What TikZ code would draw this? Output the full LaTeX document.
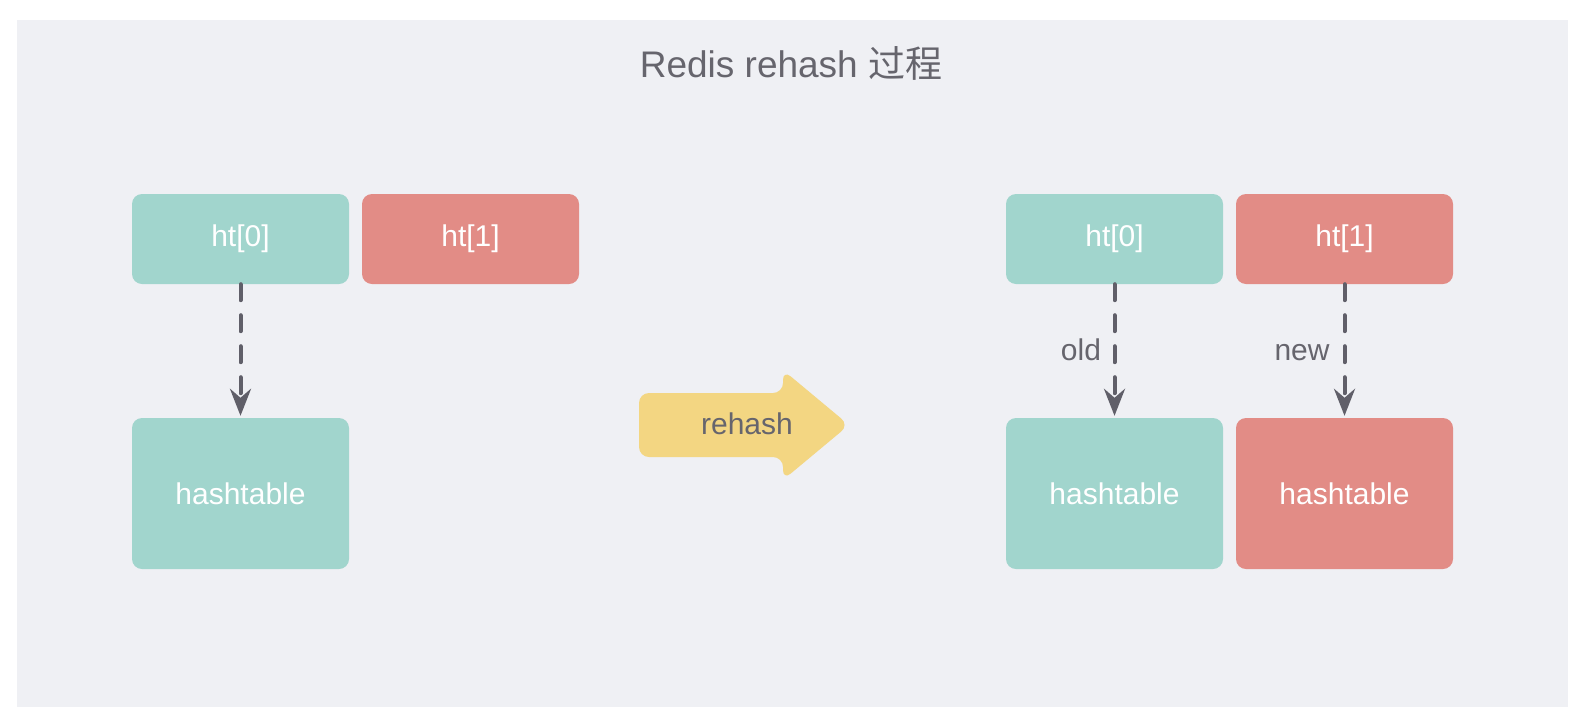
\documentclass[tikz,border=0pt]{standalone}
\usepackage{fontspec}
\setmainfont{Liberation Sans}
\newfontfamily\cjk{Noto Sans CJK SC}
\usetikzlibrary{arrows.meta}
\definecolor{panel}{HTML}{EFF0F4}
\definecolor{teal}{HTML}{A1D5CD}
\definecolor{coral}{HTML}{E28C86}
\definecolor{gold}{HTML}{F3D682}
\definecolor{txtgray}{HTML}{66656D}
\definecolor{arrgray}{HTML}{605F69}
\tikzset{
  box/.style={rounded corners=10pt, minimum width=217pt, inner sep=0pt, text=white,
    font=\fontsize{30}{36}\selectfont},
  small/.style={box, minimum height=90pt},
  big/.style={box, minimum height=151pt},
  tealbox/.style={fill=teal},
  coralbox/.style={fill=coral},
  link/.style={draw=arrgray, line width=4pt, dash pattern=on 16pt off 15pt, line cap=round,
    -{Stealth[length=27pt,width=21pt,inset=9pt,line cap=butt]}, shorten >=2pt},
  lbl/.style={text=txtgray, font=\fontsize{30}{36}\selectfont, inner sep=0pt}
}
\begin{document}
\begin{tikzpicture}[x=1pt,y=-1pt]
\useasboundingbox (0,0) rectangle (1578,710);
\fill[panel] (17,20) rectangle (1568,707);
\node[text=txtgray, font=\fontsize{37}{44}\selectfont, anchor=base, inner sep=0pt] (title) at (791,77) {Redis rehash {\cjk 过程}};
% left
\node[small, tealbox] (lht0) at (240.5,239) {ht[0]};
\node[small, coralbox] (lht1) at (470.5,239) {ht[1]};
\node[big, tealbox] (lhash) at (240.5,493.5) {hashtable};
\draw[link] (lht0.south) -- (lhash.north);
% rehash arrow
\fill[gold, rounded corners=10pt] (639,393) -- (783,393) -- (783,370) -- (849,425) -- (783,480) -- (783,457) -- (639,457) -- cycle;
\node[lbl, anchor=base] (rh) at (747,434) {rehash};
% right
\node[small, tealbox] (rht0) at (1114.5,239) {ht[0]};
\node[small, coralbox] (rht1) at (1344.5,239) {ht[1]};
\node[big, tealbox] (rhash0) at (1114.5,493.5) {hashtable};
\node[big, coralbox] (rhash1) at (1344.5,493.5) {hashtable};
\draw[link] (rht0.south) -- (rhash0.north);
\draw[link] (rht1.south) -- (rhash1.north);
\node[lbl, anchor=base] (old) at (1081,360) {old};
\node[lbl, anchor=base] (new) at (1302,360) {new};
\end{tikzpicture}
\end{document}
